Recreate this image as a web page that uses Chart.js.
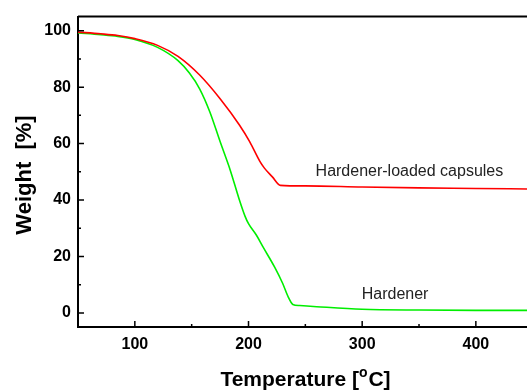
<!DOCTYPE html>
<html>
<head>
<meta charset="utf-8">
<script src="https://cdn.jsdelivr.net/npm/chart.js@4/dist/chart.umd.min.js"></script>
<style>
  html, body { margin: 0; padding: 0; background: #fff; }
  #wrap { width: 527px; height: 390px; }
</style>
</head>
<body>
<div id="wrap"><canvas id="tga"></canvas></div>
<script>
// TGA curves
var capsTemp   = [50, 70, 85, 100, 120, 138, 157, 175, 192, 201, 210, 214, 221, 228, 250, 300, 350, 400, 445];
var capsWeight = [99.5, 98.9, 98.3, 97.2, 94.8, 90.9, 84.3, 75.9, 66.6, 60.7, 53.7, 51.3, 48.2, 45.2, 45.0, 44.6, 44.3, 44.1, 43.9];

var hardTemp   = [50, 70, 85, 100, 120, 138, 148, 157, 166, 175, 184, 192, 197, 200, 207, 213, 223, 230, 235, 239, 245, 260, 300, 350, 400, 445];
var hardWeight = [99.2, 98.6, 98.0, 96.9, 94.1, 89.4, 85.0, 79.4, 71.2, 60.7, 50.5, 40.0, 34.2, 31.6, 27.5, 23.2, 16.2, 10.5, 5.6, 3.0, 2.6, 2.2, 1.3, 1.0, 0.9, 0.9];

var xTicks = [100, 200, 300, 400];
var xMinor = [150, 250, 350];
var yTicks = [0, 20, 40, 60, 80, 100];
var yMinor = [10, 30, 50, 70, 90];

var seriesNames = ["Hardener-loaded capsules", "Hardener"];

function toPoints(xs, ys) {
    return xs.map(function (t, i) { return { x: t, y: ys[i] }; });
}

// ticks inward, frame top, axis titles, curve labels
var decor = {
    id: 'decor',
    afterDraw: function (chart) {
        var ctx = chart.ctx;
        var xs = chart.scales.x, ys = chart.scales.y;
        var a = chart.chartArea;
        ctx.save();
        ctx.strokeStyle = '#000';
        ctx.lineWidth = 2;
        ctx.beginPath();
        ctx.moveTo(a.left, a.top);
        ctx.lineTo(chart.width, a.top);
        ctx.stroke();

        ctx.lineWidth = 1.5;
        ctx.beginPath();
        xTicks.forEach(function (v) {
            var p = xs.getPixelForValue(v);
            ctx.moveTo(p, a.bottom); ctx.lineTo(p, a.bottom - 6);
        });
        xMinor.forEach(function (v) {
            var p = xs.getPixelForValue(v);
            ctx.moveTo(p, a.bottom); ctx.lineTo(p, a.bottom - 3);
        });
        yTicks.forEach(function (v) {
            var p = ys.getPixelForValue(v);
            ctx.moveTo(a.left, p); ctx.lineTo(a.left + 6, p);
        });
        yMinor.forEach(function (v) {
            var p = ys.getPixelForValue(v);
            ctx.moveTo(a.left, p); ctx.lineTo(a.left + 3, p);
        });
        ctx.stroke();

        // x title with superscript o
        ctx.fillStyle = '#000';
        ctx.textBaseline = 'alphabetic';
        var p1 = 'Temperature [', p2 = 'C]';
        ctx.font = 'bold 21px "Liberation Sans", Arial, sans-serif';
        var w1 = ctx.measureText(p1).width, w3 = ctx.measureText(p2).width;
        ctx.font = 'bold 14px "Liberation Sans", Arial, sans-serif';
        var w2 = ctx.measureText('o').width + 1;
        var cx = (a.left + chart.width) / 2 + 3;
        var sx = cx - (w1 + w2 + w3) / 2;
        var by = 386;
        ctx.font = 'bold 21px "Liberation Sans", Arial, sans-serif';
        ctx.textAlign = 'left';
        ctx.fillText(p1, sx, by);
        ctx.font = 'bold 14px "Liberation Sans", Arial, sans-serif';
        ctx.fillText('o', sx + w1, by - 9);
        ctx.font = 'bold 21px "Liberation Sans", Arial, sans-serif';
        ctx.fillText(p2, sx + w1 + w2, by);

        // y title
        ctx.save();
        ctx.translate(31, 175);
        ctx.rotate(-Math.PI / 2);
        ctx.textAlign = 'center';
        ctx.font = 'bold 22px "Liberation Sans", Arial, sans-serif';
        ctx.fillText('Weight  [%]', 0, 0);
        ctx.restore();

        // curve labels
        ctx.fillStyle = '#222';
        ctx.textAlign = 'left';
        ctx.font = '16px "Liberation Sans", Arial, sans-serif';
        ctx.fillText(seriesNames[0], xs.getPixelForValue(259), ys.getPixelForValue(48.4));
        ctx.fillText(seriesNames[1], xs.getPixelForValue(299.6), ys.getPixelForValue(4.8));
        ctx.restore();
    }
};

new Chart(document.getElementById('tga').getContext('2d'), {
    type: 'line',
    data: {
        datasets: [{
            label: seriesNames[0],
            data: toPoints(capsTemp, capsWeight),
            borderColor: '#ff0000',
            borderWidth: 1.6,
            pointRadius: 0,
            cubicInterpolationMode: 'monotone',
            fill: false
        }, {
            label: seriesNames[1],
            data: toPoints(hardTemp, hardWeight),
            borderColor: '#00ee00',
            borderWidth: 1.6,
            pointRadius: 0,
            cubicInterpolationMode: 'monotone',
            fill: false
        }]
    },
    options: {
        responsive: true,
        maintainAspectRatio: false,
        animation: false,
        layout: { padding: { top: 14, right: 0, left: 0, bottom: 0 } },
        plugins: { legend: { display: false }, tooltip: { enabled: false } },
        scales: {
            x: {
                type: 'linear',
                min: 50,
                max: 445,
                grid: { display: false, drawTicks: false },
                border: { display: true, color: '#000', width: 2 },
                afterBuildTicks: function (s) { s.ticks = xTicks.map(function (v) { return { value: v }; }); },
                afterFit: function (s) { s.height = 63; },
                ticks: {
                    color: '#000',
                    padding: 8,
                    maxRotation: 0,
                    font: { family: '"Liberation Sans", Arial, sans-serif', size: 16, weight: 'bold' }
                }
            },
            y: {
                min: -5,
                max: 105,
                grid: { display: false, drawTicks: false },
                border: { display: true, color: '#000', width: 2 },
                afterBuildTicks: function (s) { s.ticks = yTicks.map(function (v) { return { value: v }; }); },
                afterFit: function (s) { s.width = 78; },
                ticks: {
                    color: '#000',
                    padding: 7,
                    font: { family: '"Liberation Sans", Arial, sans-serif', size: 16, weight: 'bold' }
                }
            }
        }
    },
    plugins: [decor]
});
</script>
</body>
</html>
